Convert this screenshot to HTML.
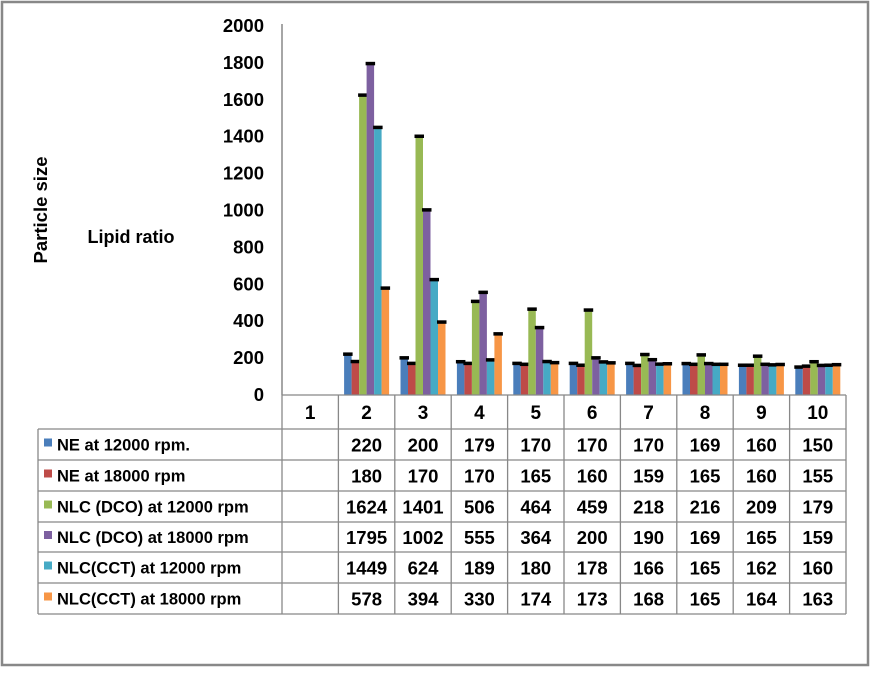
<!DOCTYPE html>
<html><head><meta charset="utf-8"><style>
body{margin:0;background:#fff;}
svg text{font-family:"Liberation Sans",Arial,sans-serif;font-weight:bold;}
</style></head><body>
<svg id="c" width="871" height="668" xmlns="http://www.w3.org/2000/svg">
<rect x="2" y="2" width="866" height="663" fill="#fff" stroke="#888" stroke-width="2.5"/>
<text x="0" y="0" transform="translate(47,210) rotate(-90)" text-anchor="middle" font-size="18.5">Particle size</text>
<text x="131" y="243" text-anchor="middle" font-size="18">Lipid ratio</text>
<g id="plot"></g>
</svg>
<script>
const categories=["1","2","3","4","5","6","7","8","9","10"];
const seriesNames=["NE at 12000 rpm.","NE at 18000 rpm","NLC (DCO) at 12000 rpm","NLC (DCO) at 18000 rpm","NLC(CCT) at 12000 rpm","NLC(CCT) at 18000 rpm"];
const colors=["#4a7ebb","#be4b48","#98b954","#7d60a0","#46aac5","#f79646"];
const ne12=[null,220,200,179,170,170,170,169,160,150];
const ne18=[null,180,170,170,165,160,159,165,160,155];
const dco12=[null,1624,1401,506,464,459,218,216,209,179];
const dco18=[null,1795,1002,555,364,200,190,169,165,159];
const cct12=[null,1449,624,189,180,178,166,165,162,160];
const cct18=[null,578,394,330,174,173,168,165,164,163];
const series=[ne12,ne18,dco12,dco18,cct12,cct18];
const yTicks=[0,200,400,600,800,1000,1200,1400,1600,1800,2000];
const NS="http://www.w3.org/2000/svg";
const g=document.getElementById('plot');
const x0=282,x1=846,yTop=26,yBot=395,yMax=2000;
const colW=(x1-x0)/categories.length;
const yS=v=>yBot-(v/yMax)*(yBot-yTop);
const xC=i=>x0+colW*i;
function mk(t,a){const e=document.createElementNS(NS,t);for(const k in a)e.setAttribute(k,a[k]);g.appendChild(e);return e;}
yTicks.forEach(v=>{const t=mk('text',{x:264,y:yS(v)+6,'text-anchor':'end','font-size':18.5});t.textContent=v;

});
const ax=mk('line',{x1:x0,y1:yTop-2,x2:x0,y2:yBot,stroke:'#888','stroke-width':1.5});


const bw=7.5,off=(colW-bw*6)/2;
categories.forEach((c,i)=>{series.forEach((s,j)=>{const v=s[i];if(v==null)return;
const x=xC(i)+off+j*bw;
const r=mk('rect',{x:x,y:yS(v),width:bw,height:yBot-yS(v),fill:colors[j]});


const e=mk('rect',{x:x-1,y:yS(v)-2,width:bw+2,height:3.5,fill:'#000'});


});});
const rowY=[395,429,460,491,522,552,583,614];
const tl=38;
const grid='#888';
function ln(a,b,c,d){const l=mk('line',{x1:a,y1:b,x2:c,y2:d,stroke:grid,'stroke-width':1.3});

}
ln(x0,yBot,x1,yBot);ln(x0,yBot,x0,rowY[7]);
for(let r=1;r<rowY.length;r++)ln(tl,rowY[r],x1,rowY[r]);
ln(tl,rowY[1],tl,rowY[7]);
for(let i=1;i<=categories.length;i++)ln(xC(i),yBot,xC(i),rowY[7]);
categories.forEach((c,i)=>{const t=mk('text',{x:xC(i)+colW/2,y:419,'text-anchor':'middle','font-size':19});t.textContent=c;

});
series.forEach((s,j)=>{const yc=(rowY[j+1]+rowY[j+2])/2;
const sw=mk('rect',{x:44,y:yc-6,width:8,height:8,fill:colors[j]});


const t=mk('text',{x:57,y:yc+6,'font-size':16.5});t.textContent=seriesNames[j];


s.forEach((v,i)=>{if(v==null)return;const d=mk('text',{x:xC(i)+colW/2,y:yc+7,'text-anchor':'middle','font-size':18.5});d.textContent=v;

});});
</script>
</body></html>
